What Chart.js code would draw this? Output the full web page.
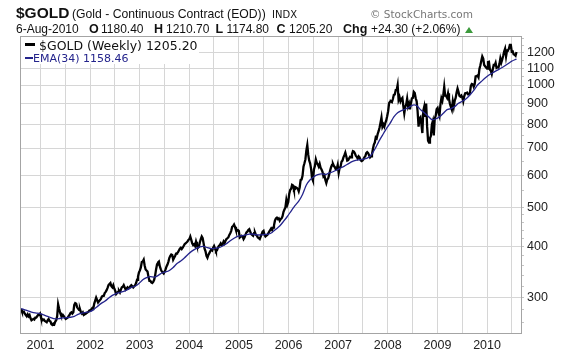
<!DOCTYPE html>
<html>
<head>
<meta charset="utf-8">
<script src="https://cdn.jsdelivr.net/npm/chart.js@4.4.1/dist/chart.umd.min.js"></script>
<style>
html,body{margin:0;padding:0;background:#fff;}
#wrap{position:relative;width:576px;height:355px;overflow:hidden;font-family:"Liberation Sans",Arial,sans-serif;color:#111;}
#c{position:absolute;left:0;top:0;}
.t{position:absolute;white-space:nowrap;line-height:1;}
.dj{font-family:"DejaVu Sans",Verdana,sans-serif;}
.b{font-weight:bold;}
#lg{position:absolute;left:21px;top:37px;width:178px;height:27px;background:#fff;}
.dash{position:absolute;}
</style>
</head>
<body>
<div id="wrap">
<canvas id="c" width="576" height="355"></canvas>

<div class="t b" style="left:16px;top:5px;font-size:15.5px;">$GOLD</div>
<div class="t" style="left:72px;top:8px;font-size:12.2px;">(Gold - Continuous Contract (EOD))</div>
<div class="t dj" style="left:272px;top:10px;font-size:10px;">INDX</div>
<div class="t dj" style="right:103px;top:9px;font-size:10.5px;color:#777;">© StockCharts.com</div>

<div class="t" style="left:16px;top:23px;font-size:12px;">6-Aug-2010</div>
<div class="t b" style="left:89px;top:22.5px;font-size:12.5px;">O</div>
<div class="t" style="left:101px;top:23px;font-size:12px;">1180.40</div>
<div class="t b" style="left:154px;top:22.5px;font-size:12.5px;">H</div>
<div class="t" style="left:166px;top:23px;font-size:12px;">1210.70</div>
<div class="t b" style="left:215.5px;top:22.5px;font-size:12.5px;">L</div>
<div class="t" style="left:226.5px;top:23px;font-size:12px;">1174.80</div>
<div class="t b" style="left:276.5px;top:22.5px;font-size:12.5px;">C</div>
<div class="t" style="left:289px;top:23px;font-size:12px;">1205.20</div>
<div class="t b" style="left:343px;top:22.5px;font-size:12.5px;">Chg</div>
<div class="t" style="left:371px;top:23px;font-size:12px;">+24.30 (+2.06%)</div>
<div style="position:absolute;left:465px;top:27px;width:0;height:0;border-left:4px solid transparent;border-right:4px solid transparent;border-bottom:6px solid #3c9a3c;"></div>

<div id="lg">
  <div class="dash" style="left:4px;top:6px;width:10px;height:3px;background:#000;"></div>
  <div class="t dj" style="left:18px;top:2.5px;font-size:12.5px;color:#111;">$GOLD (Weekly) 1205.20</div>
  <div class="dash" style="left:4px;top:20px;width:8px;height:2px;background:#24248c;"></div>
  <div class="t dj" style="left:12px;top:16px;font-size:11px;color:#24248c;">EMA(34) 1158.46</div>
</div>
</div>

<script>
// ---- Data: weekly closes of $GOLD (Fridays), starting 11-Aug-2000 ----
const gold2000 = [281, 277, 276, 277, 274, 272, 270, 273, 270, 272, 267, 264, 265, 266, 265, 268, 268, 270, 272, 272, 274];
const gold2001 = [268, 266, 264, 265, 263, 262, 261, 264, 266, 263, 262, 258, 257, 259, 258, 262, 264, 270, 289, 282, 276, 272, 270, 272, 270, 268, 266, 267, 268, 270, 272, 275, 276, 274, 276, 288, 291, 290, 284, 282, 280, 281, 276, 274, 276, 272, 273, 274, 275, 276, 277, 279];
const gold2002 = [279, 281, 283, 282, 290, 295, 300, 296, 292, 294, 294, 298, 302, 303, 303, 308, 310, 313, 317, 322, 324, 326, 320, 318, 322, 316, 312, 306, 308, 310, 312, 309, 314, 318, 319, 322, 318, 314, 316, 318, 316, 317, 320, 322, 320, 318, 320, 322, 326, 332, 338, 346];
const gold2003 = [350, 356, 367, 368, 372, 360, 352, 350, 348, 338, 330, 330, 327, 326, 328, 332, 340, 352, 362, 366, 368, 358, 352, 348, 346, 344, 348, 352, 358, 362, 368, 376, 380, 383, 382, 372, 376, 380, 385, 386, 388, 392, 396, 398, 395, 398, 402, 406, 408, 410, 412, 416];
const gold2004 = [418, 424, 416, 408, 404, 406, 402, 412, 404, 398, 400, 410, 418, 424, 420, 408, 396, 390, 380, 376, 382, 386, 390, 394, 392, 398, 402, 396, 390, 392, 398, 402, 404, 408, 404, 406, 412, 408, 414, 418, 420, 422, 428, 432, 438, 448, 450, 454, 448, 440, 438, 440, 438];
const gold2005 = [422, 424, 426, 424, 418, 422, 428, 434, 436, 440, 442, 436, 430, 428, 426, 432, 434, 428, 426, 422, 420, 418, 424, 430, 436, 438, 428, 424, 426, 428, 432, 436, 440, 444, 440, 446, 452, 464, 470, 472, 468, 470, 464, 468, 470, 476, 488, 494, 500, 522, 508, 516];
const gold2006 = [540, 552, 556, 568, 566, 552, 554, 560, 558, 556, 548, 560, 584, 586, 598, 630, 642, 656, 690, 712, 674, 652, 642, 622, 590, 582, 620, 632, 656, 644, 638, 630, 640, 626, 620, 612, 596, 600, 584, 574, 586, 590, 602, 616, 628, 636, 640, 632, 628, 620, 622, 636];
const gold2007 = [608, 626, 630, 648, 652, 664, 672, 682, 668, 652, 654, 660, 666, 664, 676, 688, 686, 680, 670, 666, 660, 668, 664, 654, 650, 652, 656, 664, 668, 680, 684, 680, 672, 664, 668, 674, 696, 714, 722, 744, 740, 758, 770, 786, 808, 832, 790, 800, 790, 806, 818, 838];
const gold2008 = [862, 902, 910, 912, 908, 924, 946, 948, 972, 972, 1000, 920, 934, 912, 924, 930, 888, 852, 884, 896, 926, 886, 900, 872, 904, 928, 930, 962, 956, 928, 912, 862, 790, 828, 834, 800, 762, 865, 885, 835, 900, 790, 730, 722, 740, 750, 800, 815, 752, 825, 840, 872];
const gold2009 = [878, 855, 840, 895, 928, 914, 944, 990, 942, 940, 930, 954, 924, 898, 884, 870, 912, 885, 915, 930, 958, 980, 962, 940, 936, 942, 932, 912, 938, 954, 955, 958, 948, 952, 956, 996, 1006, 1004, 990, 1004, 1050, 1052, 1056, 1045, 1096, 1118, 1148, 1176, 1162, 1120, 1112, 1104];
const gold2010 = [1097, 1138, 1140, 1092, 1084, 1064, 1092, 1120, 1118, 1134, 1102, 1106, 1104, 1126, 1162, 1136, 1156, 1180, 1208, 1228, 1176, 1216, 1218, 1228, 1256, 1256, 1208, 1210, 1190, 1188, 1181, 1205.2];

// ---- EMA(34), read every 4 weeks from the same start, plus the last value ----
const ema4w = [282, 280, 278, 276, 275, 274, 272, 270, 267.5, 266,
  266.5, 267.5, 268, 268.5, 270, 273, 275, 276, 277, 280,
  285, 290, 294, 299, 304, 307, 309, 311, 314, 318,
  320, 325, 332, 336, 338, 337, 340, 345, 347, 350,
  356, 364, 369, 376, 384, 391, 396, 400, 401, 398,
  396, 397, 398, 402, 407, 414, 420, 425, 426, 428,
  430, 430, 428, 428, 429, 430, 434, 442, 450, 462,
  475, 490, 505, 518, 538, 568, 585, 595, 602, 605,
  602, 608, 612, 618, 625, 632, 640, 648, 653, 655,
  657, 661, 672, 695, 725, 752, 780, 805, 835, 855,
  865, 872, 882, 893, 890, 870, 855, 838, 822, 825,
  835, 852, 870, 875, 885, 902, 912, 925, 945, 970,
  1000, 1020, 1040, 1058, 1072, 1085, 1098, 1112, 1128, 1145,
  1156];
const emaLast = 1158.46;

// ---- Axis ticks ----
const yearLabels = ['2001','2002','2003','2004','2005','2006','2007','2008','2009','2010'];
const yMajorTicks = [300, 400, 500, 600, 700, 800, 900, 1000, 1100, 1200];
const yMinorTicks = [260, 280, 320, 340, 360, 380, 420, 440, 460, 480, 550, 650, 750, 850, 950, 1050, 1150, 1250, 1300];

const DAY = 86400000, WEEK = 7 * DAY;
const startDate = Date.UTC(2000, 7, 11);
const xMin = Date.UTC(2000, 7, 3, 12), xMax = Date.UTC(2010, 8, 8);

const goldWeekly = [].concat(gold2000, gold2001, gold2002, gold2003, gold2004, gold2005, gold2006, gold2007, gold2008, gold2009, gold2010);
const goldPts = goldWeekly.map((v, i) => ({x: startDate + i * WEEK, y: v}));
const emaPts = ema4w.map((v, k) => ({x: startDate + k * 4 * WEEK, y: v}));
emaPts.push({x: startDate + (goldWeekly.length - 1) * WEEK, y: emaLast});

const xTicks = [];
yearLabels.forEach(y => {
  const yr = parseInt(y, 10);
  xTicks.push(Date.UTC(yr, 0, 1));
  const jul = Date.UTC(yr, 6, 1);
  if (jul < xMax) xTicks.push(jul);
});
xTicks.sort((a, b) => a - b);
const yTicks = yMajorTicks.concat(yMinorTicks).sort((a, b) => a - b);

const framePlugin = {
  id: 'frame',
  afterDraw(chart) {
    const a = chart.chartArea, ctx = chart.ctx;
    ctx.save();
    ctx.strokeStyle = '#a4a4a4';
    ctx.lineWidth = 1;
    ctx.strokeRect(a.left + 0.5, a.top + 0.5, a.right - a.left, a.bottom - a.top);
    ctx.restore();
  }
};

new Chart(document.getElementById('c'), {
  type: 'line',
  data: {
    datasets: [
      {label: '$GOLD (Weekly)', data: goldPts, borderColor: '#000', borderWidth: 2.3, pointRadius: 0, tension: 0, order: 1},
      {label: 'EMA(34)', data: emaPts, borderColor: '#24248c', borderWidth: 1.3, pointRadius: 0, tension: 0.2, order: 0}
    ]
  },
  options: {
    responsive: false,
    animation: false,
    layout: {padding: {left: 20, top: 36, right: 0, bottom: 0}},
    plugins: {legend: {display: false}, tooltip: {enabled: false}, title: {display: false}},
    scales: {
      x: {
        type: 'linear', min: xMin, max: xMax,
        afterBuildTicks: s => { s.ticks = xTicks.map(v => ({value: v})); },
        afterFit: s => { s.height = 22; },
        ticks: {
          autoSkip: false, maxRotation: 0, padding: 5, color: '#222',
          font: {family: 'Liberation Sans', size: 12.5},
          callback: v => { const d = new Date(v); return d.getUTCMonth() === 0 ? String(d.getUTCFullYear()) : ''; }
        },
        grid: {color: '#d6d6d6', drawTicks: false, lineWidth: 1},
        border: {display: false}
      },
      y: {
        type: 'logarithmic', position: 'right', min: 245.6, max: 1320,
        afterBuildTicks: s => { s.ticks = yTicks.map(v => ({value: v})); },
        afterFit: s => { s.width = 55; },
        ticks: {
          autoSkip: false, padding: 3, color: '#222',
          font: {family: 'Liberation Sans', size: 12.5},
          callback: v => yMajorTicks.includes(v) ? String(v) : ''
        },
        grid: {
          color: c => (c.tick && yMajorTicks.includes(c.tick.value)) ? '#d6d6d6' : 'rgba(0,0,0,0)',
          tickColor: '#c4c4c4', tickLength: 3, lineWidth: 1
        },
        border: {display: false}
      }
    }
  },
  plugins: [framePlugin]
});
</script>
</body>
</html>
